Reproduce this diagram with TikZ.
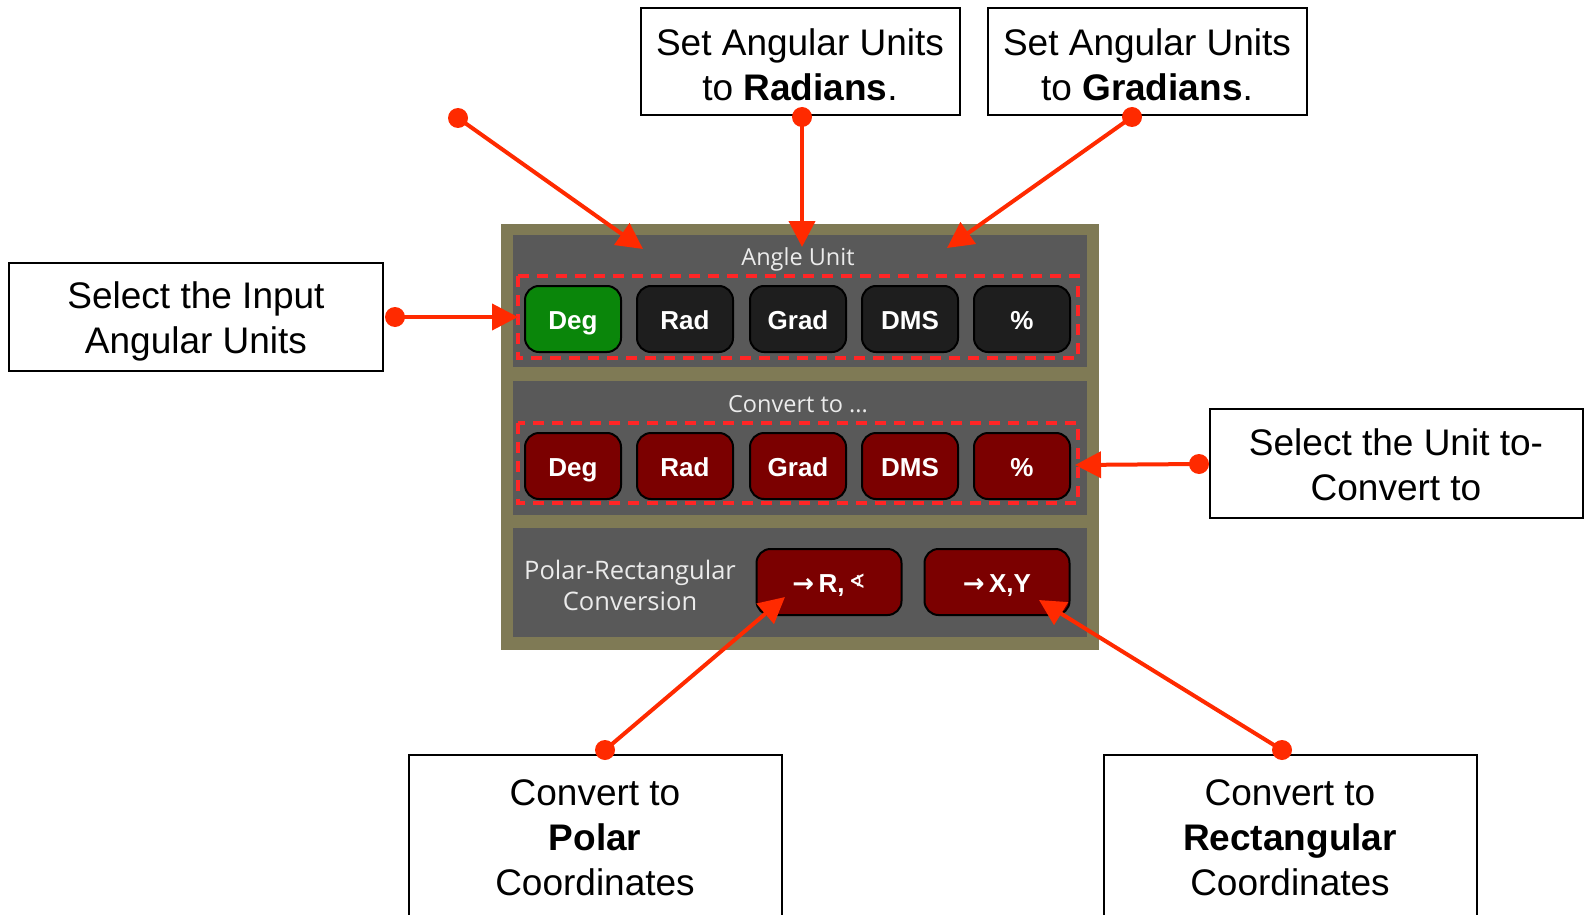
\documentclass[tikz,border=0pt]{standalone}
\usepackage{fontspec}
\setmainfont{Liberation Sans}
\newfontfamily\panelfont{Open Sans}
\newfontfamily\btnfont{Liberation Sans}
\newfontfamily\symfont{DejaVu Sans}
\usetikzlibrary{arrows.meta}
\definecolor{panelolive}{HTML}{7F7A55}
\definecolor{panelgray}{HTML}{595959}
\definecolor{btnblack}{HTML}{1E1E1E}
\definecolor{btngreen}{HTML}{0A860A}
\definecolor{btnred}{HTML}{7B0000}
\definecolor{annred}{HTML}{FF2A00}
\definecolor{dashred}{HTML}{FF2626}
\tikzset{
  btn/.style={rounded corners=14pt, draw=black, line width=2pt, minimum width=96pt, minimum height=66pt, text=white, inner sep=0pt, text height=22pt, text depth=2pt, font=\btnfont\bfseries\fontsize{26}{30}\selectfont},
  wbtn/.style={btn, minimum width=145pt},
  callout/.style={draw=black, line width=2pt, fill=white, inner sep=0pt},
  ctext/.style={align=center, inner sep=0pt, font=\fontsize{37}{45}\selectfont},
  plabel/.style={text=white!92!black, align=center, font=\panelfont\fontsize{23.5}{31}\selectfont},
  ann/.style={draw=annred, line width=4pt, -{Triangle[length=26pt,width=26pt]}, shorten <=2pt},
  dot/.style={fill=annred},
  dashbox/.style={draw=dashred, line width=4pt, dash pattern=on 11pt off 8pt}
}
\begin{document}
\begin{tikzpicture}[x=1pt,y=-1pt]
\useasboundingbox (0,0) rectangle (1585,915);
% panel
\fill[panelolive] (501,224) rectangle (1099,650);
\fill[panelgray] (513,235) rectangle (1087,367);
\fill[panelgray] (513,381) rectangle (1087,515);
\fill[panelgray] (513,528) rectangle (1087,637);
\node[plabel] (angleunit) at (798,259) {Angle Unit};
\node[plabel] (convto) at (798,404) {Convert to ...};
\node[plabel, font=\panelfont\fontsize{25.5}{31}\selectfont] (polrect) at (630,585) {Polar-Rectangular\\Conversion};
% row 1
\node[btn, fill=btngreen] (d1) at (573,319) {Deg};
\node[btn, fill=btnblack] (r1) at (685,319) {Rad};
\node[btn, fill=btnblack] (g1) at (798,319) {Grad};
\node[btn, fill=btnblack] (m1) at (910,319) {DMS};
\node[btn, fill=btnblack] (p1) at (1022,319) {\%};
% row 2
\node[btn, fill=btnred] (d2) at (573,466) {Deg};
\node[btn, fill=btnred] (r2) at (685,466) {Rad};
\node[btn, fill=btnred] (g2) at (798,466) {Grad};
\node[btn, fill=btnred] (m2) at (910,466) {DMS};
\node[btn, fill=btnred] (p2) at (1022,466) {\%};
% row 3
\node[wbtn, fill=btnred] (torp) at (829,582) {{\symfont\bfseries →}\,R,\,{\symfont\fontsize{20}{22}\selectfont\raisebox{4pt}{∢}}};
\node[wbtn, fill=btnred] (toxy) at (997,582) {{\symfont\bfseries →}\,X,Y};
% dashed groups
\draw[dashbox] (518,276) rectangle (1078,358);
\draw[dashbox] (518,423) rectangle (1078,503);
% callouts
\node[callout, minimum width=374pt, minimum height=108pt] (inbox) at (196,317) {};
\node[ctext] (intext) at ([yshift=-4pt]inbox.center) {Select the Input\\Angular Units};
\node[callout, minimum width=319pt, minimum height=107pt] (radbox) at (800,62) {};
\node[ctext] (radtext) at ([yshift=-3pt]radbox.center) {Set Angular Units\\to \textbf{Radians}.};
\node[callout, minimum width=319pt, minimum height=107pt] (gradbox) at (1147,62) {};
\node[ctext] (gradtext) at ([yshift=-3pt]gradbox.center) {Set Angular Units\\to \textbf{Gradians}.};
\node[callout, minimum width=373pt, minimum height=109pt] (unitbox) at (1396,463) {};
\node[ctext] (unittext) at ([yshift=-2pt]unitbox.center) {Select the Unit to-\\Convert to};
\node[callout, minimum width=373pt, minimum height=166pt] (polbox) at (595,838) {};
\node[ctext] (poltext) at (polbox.center) {Convert to\\\textbf{Polar}\\Coordinates};
\node[callout, minimum width=373pt, minimum height=166pt] (recbox) at (1290,838) {};
\node[ctext] (rectext) at (recbox.center) {Convert to\\\textbf{Rectangular}\\Coordinates};
% annotation points
\coordinate (degdot) at (458,118);
\coordinate (degtip) at (643,249);
\coordinate (raddot) at (802,117);
\coordinate (radtip) at (802,247);
\coordinate (graddot) at (1132,117);
\coordinate (gradtip) at (947,248);
\coordinate (indot) at (395,317);
\coordinate (intip) at (518,317);
\coordinate (unitdot) at (1199,464);
\coordinate (unittip) at (1075,465);
\coordinate (poldot) at (605,750);
\coordinate (poltip) at (785,597);
\coordinate (recdot) at (1282,750);
\coordinate (rectip) at (1039,600);
% arrows
\draw[ann] (degdot) -- (degtip);
\draw[ann] (raddot) -- (radtip);
\draw[ann] (graddot) -- (gradtip);
\draw[ann] (indot) -- (intip);
\draw[ann] (unitdot) -- (unittip);
\draw[ann] (poldot) -- (poltip);
\draw[ann] (recdot) -- (rectip);
\foreach \c in {degdot,raddot,graddot,indot,unitdot,poldot,recdot}
  \fill[dot] (\c) circle (10pt);
\end{tikzpicture}
\end{document}
